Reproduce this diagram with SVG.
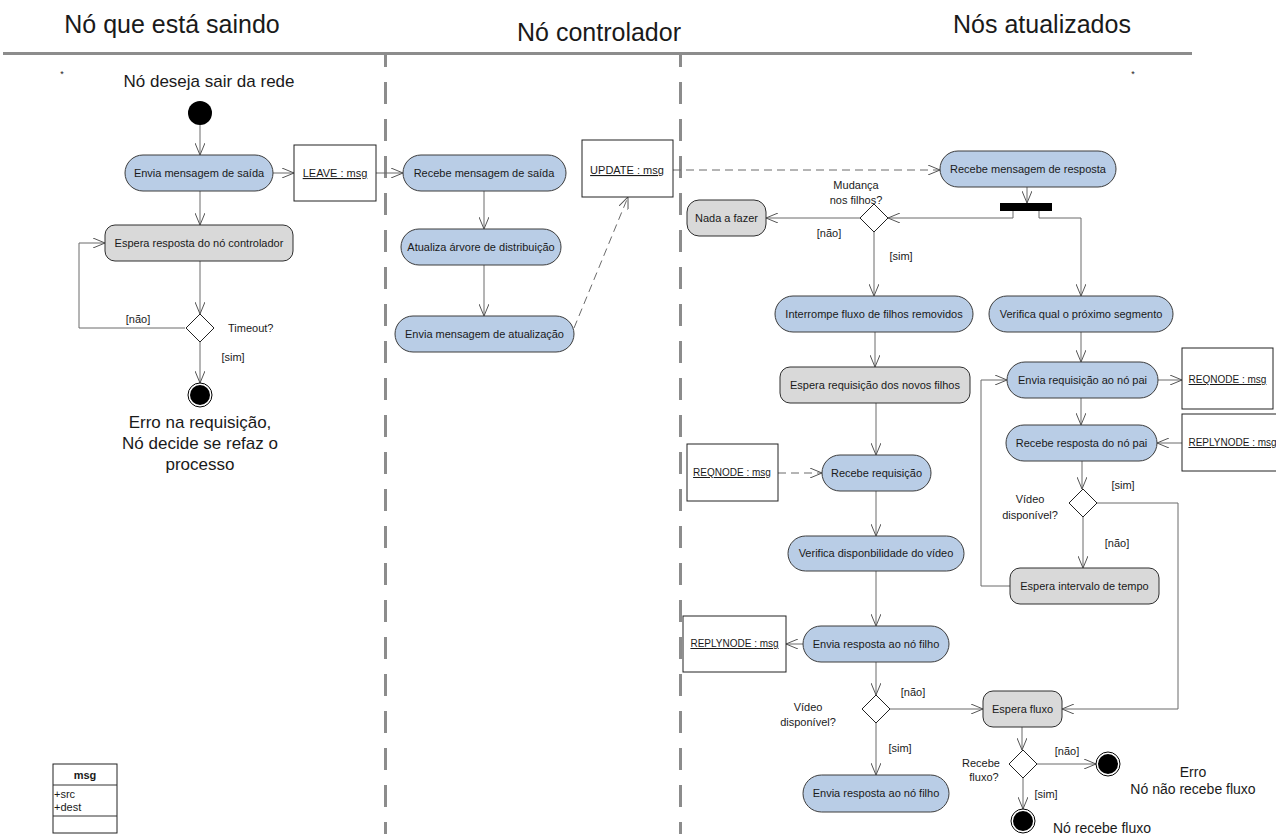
<svg xmlns="http://www.w3.org/2000/svg" width="1276" height="834" viewBox="0 0 1276 834">
  <defs>
    <style>
      text { font-family: "Liberation Sans", Arial, sans-serif; fill: #1a1a1a; }
      .head { font-size: 25px; }
      .big { font-size: 17px; text-anchor: middle; }
      .note { font-size: 14px; }
      .t { font-size: 11px; text-anchor: middle; }
      .lbl { font-size: 11px; }
      .objt { font-size: 10px; text-anchor: middle; text-decoration: underline; }
      .objt11 { font-size: 11px; text-anchor: middle; text-decoration: underline; }
      .act { fill: #b9cde6; stroke: #3c3c3c; stroke-width: 1; }
      .wait { fill: #d9d9d9; stroke: #2e2e2e; stroke-width: 1; }
      .obj { fill: #ffffff; stroke: #222; stroke-width: 1; }
      .dec { fill: #ffffff; stroke: #222; stroke-width: 1; }
      .flow { fill: none; stroke: #6a6a6a; stroke-width: 1; marker-end: url(#arr); }
      .dash { stroke-dasharray: 8 5; }
      .lane { fill: none; stroke: #8c8c8c; stroke-width: 3; }
      .lanev { stroke-dasharray: 22 15; stroke-dashoffset: 7; }
    </style>
    <marker id="arr" viewBox="0 0 12 10" refX="12" refY="5" markerWidth="12" markerHeight="10" markerUnits="userSpaceOnUse" orient="auto">
      <path d="M0,0 L12,5 L0,10" fill="none" stroke="#555" stroke-width="1"/>
    </marker>
  </defs>

  <rect width="1276" height="834" fill="#ffffff"/>

  <!-- swimlanes -->
  <g id="lanes">
    <line class="lane" x1="3" y1="53.5" x2="1192" y2="53.5"/>
    <line class="lane lanev" x1="385.5" y1="52" x2="385.5" y2="834"/>
    <line class="lane lanev" x1="680.5" y1="52" x2="680.5" y2="834"/>
    <text class="head" x="172" y="33" text-anchor="middle">Nó que está saindo</text>
    <text class="head" x="599" y="41" text-anchor="middle">Nó controlador</text>
    <text class="head" x="1042" y="33" text-anchor="middle">Nós atualizados</text>
    <text x="62" y="77" font-size="9" text-anchor="middle">*</text>
    <text x="1133" y="77" font-size="9" text-anchor="middle">*</text>
  </g>

  <!-- connectors -->
  <g id="connectors">
    <!-- leaving node -->
    <path class="flow" d="M200,125 V155"/>
    <path class="flow" d="M273,173 H294"/>
    <path class="flow" d="M376,173 H403"/>
    <path class="flow" d="M200,191 V225"/>
    <path class="flow" d="M200,261 V314"/>
    <path class="flow" d="M185,328 H79 V243 H105"/>
    <path class="flow" d="M200,342 V383"/>
    <!-- controller -->
    <path class="flow" d="M484,191 V229"/>
    <path class="flow" d="M484,265 V316"/>
    <path class="flow dash" d="M574,328 L628,197"/>
    <path class="flow dash" d="M673,170 H940"/>
    <!-- updated nodes: left column -->
    <path class="flow" d="M1027,187 V203"/>
    <path class="flow" d="M1013,211 V218 H888"/>
    <path class="flow" d="M1039,211 V218 H1081 V296"/>
    <path class="flow" d="M860,218 H766"/>
    <path class="flow" d="M874,232 V296"/>
    <path class="flow" d="M875,332 V367"/>
    <path class="flow" d="M876,403 V455"/>
    <path class="flow dash" d="M778,473 H822"/>
    <path class="flow" d="M876,491 V536"/>
    <path class="flow" d="M876,571 V626"/>
    <path class="flow" d="M803,644 H786"/>
    <path class="flow" d="M876,662 V695"/>
    <path class="flow" d="M890,709 H983"/>
    <path class="flow" d="M876,723 V775"/>
    <!-- updated nodes: right column -->
    <path class="flow" d="M1081,332 V362"/>
    <path class="flow" d="M1158,380 H1182"/>
    <path class="flow" d="M1081,398 V425"/>
    <path class="flow" d="M1182,443 H1157"/>
    <path class="flow" d="M1082,461 V489"/>
    <path class="flow" d="M1097,503 H1178 V709 H1062"/>
    <path class="flow" d="M1083,517 V568"/>
    <path class="flow" d="M1010,586 H981 V380 H1007"/>
    <path class="flow" d="M1022,727 V750"/>
    <path class="flow" d="M1037,764 H1096"/>
    <path class="flow" d="M1023,778 V809"/>
  </g>

  <!-- leaving node lane -->
  <g id="start-leave">
    <text class="big" x="209" y="87">Nó deseja sair da rede</text>
    <circle cx="200" cy="113" r="12" fill="#000"/>
  </g>
  <g id="envia-saida">
    <rect class="act" x="125" y="155" width="148" height="36" rx="18"/>
    <text class="t" x="199" y="177">Envia mensagem de saída</text>
  </g>
  <g id="leave-msg">
    <rect class="obj" x="294" y="145" width="82" height="56"/>
    <text class="objt11" x="335" y="177">LEAVE : msg</text>
  </g>
  <g id="espera-resposta">
    <rect class="wait" x="105" y="225" width="188" height="36" rx="10"/>
    <text class="t" x="199" y="247">Espera resposta do nó controlador</text>
  </g>
  <g id="timeout">
    <polygon class="dec" points="200,314 214,328 200,342 186,328"/>
    <text class="lbl" x="228" y="332">Timeout?</text>
    <text class="lbl" x="138" y="323" text-anchor="middle">[não]</text>
    <text class="lbl" x="233" y="361" text-anchor="middle">[sim]</text>
  </g>
  <g id="end-leave">
    <circle cx="200" cy="395" r="12" fill="#fff" stroke="#000" stroke-width="1"/>
    <circle cx="200" cy="395" r="10" fill="#000"/>
    <text class="big" x="200" y="428">Erro na requisição,</text>
    <text class="big" x="200" y="449">Nó decide se refaz o</text>
    <text class="big" x="200" y="470">processo</text>
  </g>

  <!-- controller lane -->
  <g id="recebe-saida">
    <rect class="act" x="403" y="155" width="163" height="36" rx="18"/>
    <text class="t" x="484" y="177">Recebe mensagem de saída</text>
  </g>
  <g id="atualiza-arvore">
    <rect class="act" x="401" y="229" width="160" height="36" rx="18"/>
    <text class="t" x="481" y="251">Atualiza árvore de distribuição</text>
  </g>
  <g id="envia-atualizacao">
    <rect class="act" x="395" y="316" width="179" height="36" rx="18"/>
    <text class="t" x="484.5" y="338">Envia mensagem de atualização</text>
  </g>
  <g id="update-msg">
    <rect class="obj" x="582" y="140" width="91" height="57"/>
    <text class="objt11" x="627" y="174">UPDATE : msg</text>
  </g>

  <!-- updated nodes lane -->
  <g id="recebe-resposta">
    <rect class="act" x="940" y="151" width="176" height="36" rx="18"/>
    <text class="t" x="1028" y="173">Recebe mensagem de resposta</text>
  </g>
  <g id="fork">
    <rect x="1000" y="203" width="52" height="8" fill="#000"/>
  </g>
  <g id="mudanca-filhos">
    <polygon class="dec" points="874,204 888,218 874,232 860,218"/>
    <text class="lbl" x="856" y="189" text-anchor="middle">Mudança</text>
    <text class="lbl" x="856" y="204" text-anchor="middle">nos filhos?</text>
    <text class="lbl" x="829" y="237" text-anchor="middle">[não]</text>
    <text class="lbl" x="901" y="260" text-anchor="middle">[sim]</text>
  </g>
  <g id="nada-fazer">
    <rect class="wait" x="687" y="200" width="79" height="36" rx="12"/>
    <text class="t" x="726.5" y="222">Nada a fazer</text>
  </g>
  <g id="interrompe-fluxo">
    <rect class="act" x="775" y="296" width="198" height="36" rx="18"/>
    <text class="t" x="874" y="318">Interrompe fluxo de filhos removidos</text>
  </g>
  <g id="espera-filhos">
    <rect class="wait" x="780" y="367" width="190" height="36" rx="10"/>
    <text class="t" x="875" y="389">Espera requisição dos novos filhos</text>
  </g>
  <g id="reqnode-in">
    <rect class="obj" x="687" y="444" width="91" height="57"/>
    <text class="objt" x="732" y="476">REQNODE : msg</text>
  </g>
  <g id="recebe-requisicao">
    <rect class="act" x="822" y="455" width="109" height="36" rx="18"/>
    <text class="t" x="876.5" y="477">Recebe requisição</text>
  </g>
  <g id="verifica-video">
    <rect class="act" x="788" y="536" width="176" height="35" rx="17.5"/>
    <text class="t" x="876" y="557">Verifica disponbilidade do vídeo</text>
  </g>
  <g id="envia-resposta-filho">
    <rect class="act" x="803" y="626" width="146" height="36" rx="18"/>
    <text class="t" x="876" y="648">Envia resposta ao nó filho</text>
  </g>
  <g id="replynode-out">
    <rect class="obj" x="683" y="616" width="103" height="56"/>
    <text class="objt" x="734.5" y="647">REPLYNODE : msg</text>
  </g>
  <g id="video-disponivel-1">
    <polygon class="dec" points="876,695 890,709 876,723 862,709"/>
    <text class="lbl" x="808" y="711" text-anchor="middle">Vídeo</text>
    <text class="lbl" x="808" y="726" text-anchor="middle">disponível?</text>
    <text class="lbl" x="913" y="696" text-anchor="middle">[não]</text>
    <text class="lbl" x="900" y="752" text-anchor="middle">[sim]</text>
  </g>
  <g id="envia-resposta-filho-2">
    <rect class="act" x="803" y="775" width="146" height="37" rx="18.5"/>
    <text class="t" x="876" y="797">Envia resposta ao nó filho</text>
  </g>

  <g id="verifica-segmento">
    <rect class="act" x="989" y="296" width="184" height="36" rx="18"/>
    <text class="t" x="1081" y="318">Verifica qual o próximo segmento</text>
  </g>
  <g id="envia-requisicao-pai">
    <rect class="act" x="1007" y="362" width="151" height="36" rx="18"/>
    <text class="t" x="1082.5" y="384">Envia requisição ao nó pai</text>
  </g>
  <g id="reqnode-out">
    <rect class="obj" x="1182" y="348" width="91" height="61"/>
    <text class="objt" x="1227.5" y="383">REQNODE : msg</text>
  </g>
  <g id="recebe-resposta-pai">
    <rect class="act" x="1006" y="425" width="151" height="36" rx="18"/>
    <text class="t" x="1081.5" y="447">Recebe resposta do nó pai</text>
  </g>
  <g id="replynode-in">
    <rect class="obj" x="1182" y="414" width="110" height="57"/>
    <text class="objt" x="1232.5" y="446">REPLYNODE : msg</text>
  </g>
  <g id="video-disponivel-2">
    <polygon class="dec" points="1083,489 1097,503 1083,517 1069,503"/>
    <text class="lbl" x="1030" y="503" text-anchor="middle">Vídeo</text>
    <text class="lbl" x="1030" y="519" text-anchor="middle">disponível?</text>
    <text class="lbl" x="1123" y="489" text-anchor="middle">[sim]</text>
    <text class="lbl" x="1117" y="547" text-anchor="middle">[não]</text>
  </g>
  <g id="espera-intervalo">
    <rect class="wait" x="1010" y="568" width="149" height="36" rx="10"/>
    <text class="t" x="1084.5" y="590">Espera intervalo de tempo</text>
  </g>
  <g id="espera-fluxo">
    <rect class="wait" x="983" y="691" width="79" height="36" rx="10"/>
    <text class="t" x="1022.5" y="713">Espera fluxo</text>
  </g>
  <g id="recebe-fluxo">
    <polygon class="dec" points="1023,750 1037,764 1023,778 1009,764"/>
    <text class="lbl" x="981" y="767" text-anchor="middle">Recebe</text>
    <text class="lbl" x="984" y="781" text-anchor="middle">fluxo?</text>
    <text class="lbl" x="1067" y="755" text-anchor="middle">[não]</text>
    <text class="lbl" x="1046" y="798" text-anchor="middle">[sim]</text>
  </g>
  <g id="end-erro">
    <circle cx="1108" cy="764" r="12" fill="#fff" stroke="#000" stroke-width="1"/>
    <circle cx="1108" cy="764" r="10" fill="#000"/>
    <text class="note" x="1193" y="777" text-anchor="middle">Erro</text>
    <text class="note" x="1193" y="794" text-anchor="middle">Nó não recebe fluxo</text>
  </g>
  <g id="end-ok">
    <circle cx="1023" cy="821" r="12" fill="#fff" stroke="#000" stroke-width="1"/>
    <circle cx="1023" cy="821" r="10" fill="#000"/>
    <text class="note" x="1053" y="833">Nó recebe fluxo</text>
  </g>

  <!-- message class -->
  <g id="msg-class">
    <rect class="obj" x="53" y="764" width="64" height="69" stroke="#333"/>
    <line x1="53" y1="785" x2="117" y2="785" stroke="#333" stroke-width="1"/>
    <line x1="53" y1="816" x2="117" y2="816" stroke="#333" stroke-width="1"/>
    <text x="85" y="779" font-size="11" font-weight="bold" text-anchor="middle">msg</text>
    <text x="54" y="798" font-size="11">+src</text>
    <text x="54" y="811" font-size="11">+dest</text>
  </g>
</svg>
